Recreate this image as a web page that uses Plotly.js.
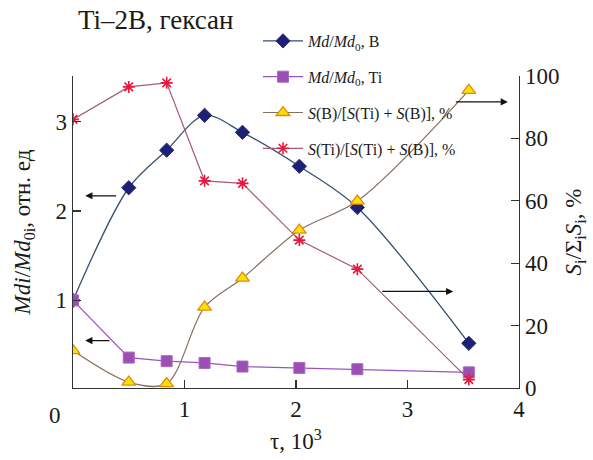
<!DOCTYPE html>
<html>
<head>
<meta charset="utf-8">
<script src="https://cdn.plot.ly/plotly-3.0.1.min.js"></script>
<style>html,body{margin:0;padding:0;background:#fff;}#chart{width:593px;height:460px;}</style>
</head>
<body>
<div id="chart"></div>
<script>
// time, 10^3
var tau = [0, 0.50, 0.84, 1.18, 1.52, 2.03, 2.55, 3.55];
// Md/Md0 (left axis)
var mdB  = [1.0, 2.26, 2.68, 3.07, 2.88, 2.50, 2.04, 0.52];
var mdTi = [1.0, 0.36, 0.32, 0.30, 0.26, 0.245, 0.23, 0.195];
// area fractions, % (right axis)
var sB  = [12.0, 1.9, 1.4, 25.9, 35.2, 50.6, 59.9, 95.4];
var sTi = [86.1, 96.5, 97.8, 66.4, 65.6, 47.4, 38.1, 2.7];

var names = [
  '<i>Md</i>/<i>Md</i><sub>0</sub>, B',
  '<i>Md</i>/<i>Md</i><sub>0</sub>, Ti',
  '<i>S</i>(B)/[<i>S</i>(Ti) + <i>S</i>(B)], %',
  '<i>S</i>(Ti)/[<i>S</i>(Ti) + <i>S</i>(B)], %'
];
var xTicks = [1, 2, 3, 4];
var yTicks = [1, 2, 3];
var y2Ticks = [0, 20, 40, 60, 80, 100];

var serif = 'Liberation Serif';
var ink = '#1a1a1a';

var traces = [
  {x: tau, y: mdB, name: names[0], yaxis: 'y', mode: 'lines+markers', legendgroup: 'a',
   line: {color: '#34506e', width: 1.3, shape: 'spline', smoothing: 0.9},
   marker: {symbol: 'diamond', size: 11, color: '#1d1f78', line: {color: '#2a2f6a', width: 1}}},
  {x: tau, y: mdTi, name: names[1], yaxis: 'y', mode: 'lines+markers', legendgroup: 'b',
   line: {color: '#9a55c0', width: 1.3},
   marker: {symbol: 'square', size: 11, color: '#9b4fb2', line: {color: '#a868c8', width: 1}}},
  {x: tau, y: sB, name: names[2], yaxis: 'y2', mode: 'lines+markers', legendgroup: 'c',
   line: {color: '#85705c', width: 1.2, shape: 'spline', smoothing: 0.9},
   marker: {symbol: 'triangle-up', size: 12, color: '#ffe100', line: {color: '#e08a10', width: 1.3}}},
  {x: tau, y: sTi, name: names[3], yaxis: 'y2', mode: 'lines+markers', legendgroup: 'd',
   line: {color: '#a45a78', width: 1.2},
   marker: {symbol: 'asterisk-open', size: 10, color: '#e8183c', line: {color: '#e8183c', width: 1.6}}}
];

function arrow(x0, x1, y, yref) {
  return {x: x1, y: y, ax: x0, ay: y, xref: 'x', yref: yref, axref: 'x', ayref: yref,
          text: '', showarrow: true, arrowhead: 2, arrowsize: 1.1, arrowwidth: 1.3, arrowcolor: '#111'};
}

var layout = {
  width: 593, height: 460,
  margin: {l: 73, r: 74, t: 76, b: 72},
  paper_bgcolor: '#fff', plot_bgcolor: '#fff',
  font: {family: serif, color: ink, size: 22},
  title: {text: 'Ti\u20132B, гексан', x: 78/593, xanchor: 'left', y: 1 - 20/460, yanchor: 'middle',
          font: {family: serif, size: 27, color: ink}},
  showlegend: true,
  legend: {x: (258 - 73) / 446, xanchor: 'left', y: (388 - 24) / 312, yanchor: 'top',
           bgcolor: 'rgba(0,0,0,0)', font: {family: serif, size: 16, color: ink},
           tracegroupgap: 12, traceorder: 'grouped', itemwidth: 40},
  xaxis: {range: [0, 4], tickvals: xTicks, ticktext: xTicks.map(String), ticks: 'inside', ticklen: 8,
          tickwidth: 1.2, tickcolor: '#333', showline: true, linecolor: '#333', linewidth: 1.3,
          showgrid: false, zeroline: false, tickfont: {family: serif, size: 23, color: ink},
          title: {text: '\u03c4, 10<sup>3</sup>', font: {family: serif, size: 23, color: ink}, standoff: 12}},
  yaxis: {range: [0.02, 3.51], tickvals: yTicks, ticktext: yTicks.map(String), ticks: 'inside', ticklen: 8,
          tickwidth: 1.2, tickcolor: '#333', showline: true, linecolor: '#333', linewidth: 1.3,
          showgrid: false, zeroline: false, tickfont: {family: serif, size: 23, color: ink},
          title: {text: '<i>Mdi</i>/<i>Md</i><sub>0i</sub>, отн. ед', font: {family: serif, size: 23, color: ink}, standoff: 18}},
  yaxis2: {range: [0, 100], tickvals: y2Ticks, ticktext: y2Ticks.map(String), overlaying: 'y', side: 'right',
           ticks: 'inside', ticklen: 8, tickwidth: 1.2, tickcolor: '#333', showline: true, linecolor: '#333',
           linewidth: 1.3, showgrid: false, zeroline: false, tickfont: {family: serif, size: 23, color: ink},
           title: {text: '<i>S</i><sub>i</sub>/\u03a3<sub>i</sub><i>S</i><sub>i</sub>, %', font: {family: serif, size: 23, color: ink}, standoff: 6}},
  annotations: [
    {x: 0, y: 0, xref: 'x', yref: 'paper', text: '0', showarrow: false, xshift: -18, yshift: -27,
     yanchor: 'middle', xanchor: 'center', font: {family: serif, size: 23, color: ink}},
    arrow(0.40, 0.11, 2.17, 'y'),
    arrow(0.34, 0.11, 0.55, 'y'),
    arrow(2.76, 3.41, 1.10, 'y'),
    arrow(3.42, 3.90, 3.22, 'y')
  ]
};

Plotly.newPlot('chart', traces, layout, {displayModeBar: false, staticPlot: true});
</script>
</body>
</html>
